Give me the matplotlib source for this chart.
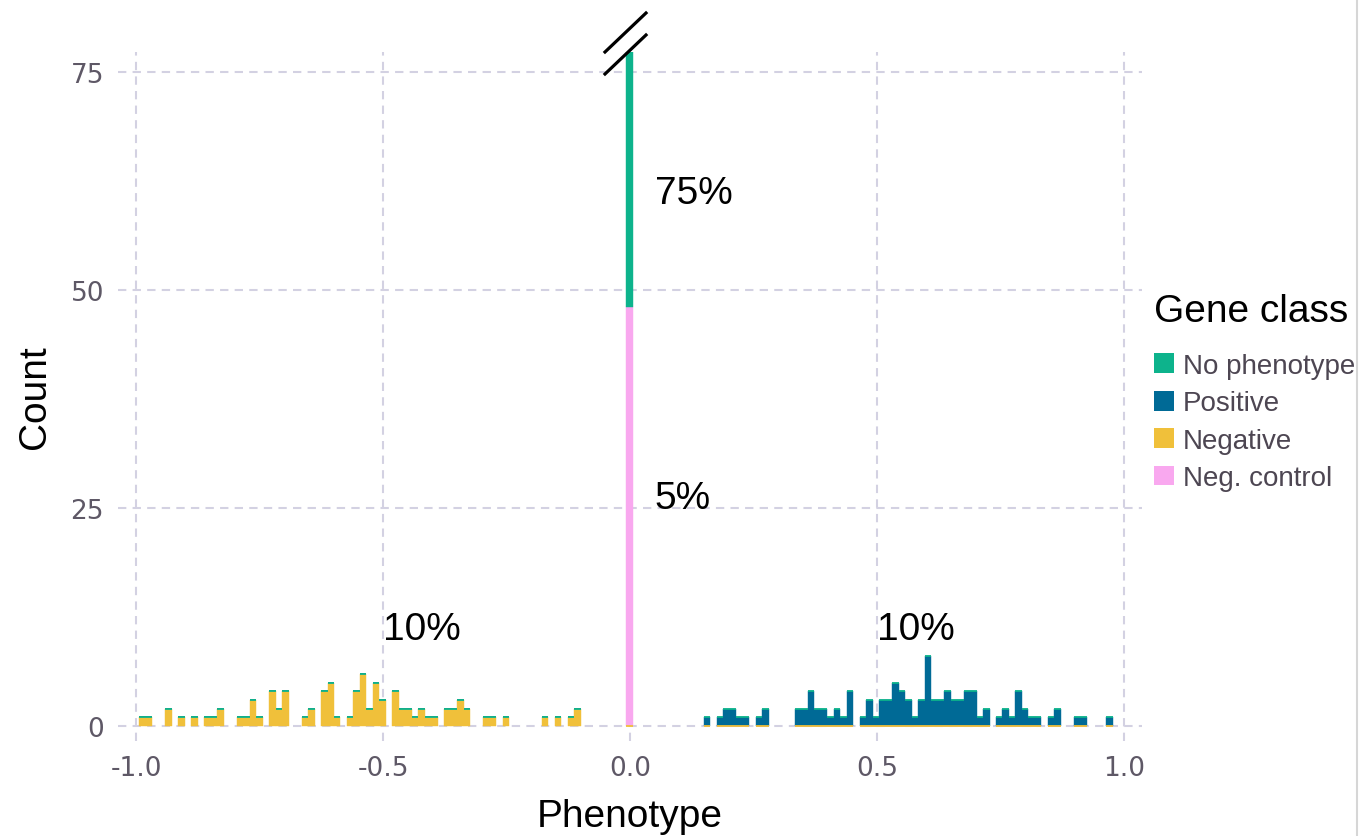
import numpy as np
import matplotlib
matplotlib.use("Agg")
import matplotlib.pyplot as plt
from matplotlib.patches import Patch
from matplotlib.lines import Line2D

# histogram bins (150 bins of equal width)
bin_start = -0.9939
bin_width = 0.013139
n_bins = 150

# bin index -> count
negative_idx = [0, 1, 4, 6, 8, 10, 11, 12, 15, 16, 17, 18, 20, 21, 22, 25, 26, 28, 29, 30,
                32, 33, 34, 35, 36, 37, 39, 40, 41, 42, 43, 44, 45, 47, 48, 49, 50, 53, 54,
                56, 62, 64, 66, 67]
negative_cnt = [1, 1, 2, 1, 1, 1, 1, 2, 1, 1, 3, 1, 4, 2, 4, 1, 2, 4, 5, 1,
                1, 4, 6, 2, 5, 3, 4, 2, 2, 1, 2, 1, 1, 2, 2, 3, 2, 1, 1,
                1, 1, 1, 1, 2]
positive_idx = [87, 89, 90, 91, 92, 93, 95, 96, 101, 102, 103, 104, 105, 106, 107, 108, 109,
                111, 112, 113, 114, 115, 116, 117, 118, 119, 120, 121, 122, 123, 124, 125,
                126, 127, 128, 129, 130, 132, 133, 134, 135, 136, 137, 138, 140, 141, 144,
                145, 149]
positive_cnt = [1, 1, 2, 2, 1, 1, 1, 2, 2, 2, 4, 2, 2, 1, 2, 1, 4,
                1, 3, 1, 3, 3, 5, 4, 3, 1, 3, 8, 3, 3, 4, 3,
                3, 4, 4, 1, 2, 1, 2, 1, 4, 2, 1, 1, 1, 2, 1,
                1, 1]
negctrl_idx = [75]
negctrl_cnt = [48]
nopheno_idx = [75]
nopheno_cnt = [750]

classes = ["No phenotype", "Positive", "Negative", "Neg. control"]
colors = {"No phenotype": "#0db38c", "Positive": "#006a96",
          "Negative": "#f0c03a", "Neg. control": "#f9a8ef"}
# stacking order, bottom to top
stack_order = ["Negative", "Neg. control", "Positive", "No phenotype"]
# which zero-height outline wins where several overlap
line_z = {"Negative": 4, "Neg. control": 1.2, "Positive": 1.5, "No phenotype": 5}

pct_labels = ["75%", "5%", "10%", "10%"]
pct_x = [0.05, 0.05, -0.5, 0.5]
pct_y = [60, 25, 10, 10]

counts = {}
for name, idx, cnt in [("Negative", negative_idx, negative_cnt),
                       ("Positive", positive_idx, positive_cnt),
                       ("Neg. control", negctrl_idx, negctrl_cnt),
                       ("No phenotype", nopheno_idx, nopheno_cnt)]:
    a = np.zeros(n_bins)
    a[idx] = cnt
    counts[name] = a

centers = bin_start + (np.arange(n_bins) + 0.5) * bin_width
total = sum(counts.values())
used = total > 0

fig = plt.figure(figsize=(13.61, 8.37), dpi=100)
ax = fig.add_axes([118 / 1361, (837 - 742) / 837, (1141.5 - 118) / 1361, (742 - 52.7) / 837])

grid_col = "#d3d1e2"
for v in [-1.0, -0.5, 0.0, 0.5, 1.0]:
    ax.axvline(v, color=grid_col, lw=1.5, ls=(0, (4, 3)), zorder=0)
for v in [0, 25, 50, 75]:
    ax.axhline(v, color=grid_col, lw=1.5, ls=(0, (4, 3)), zorder=0)

bottom = np.zeros(n_bins)
for name in stack_order:
    c = counts[name]
    m = c > 0
    ax.bar(centers[m], c[m], bottom=bottom[m], width=bin_width, color=colors[name],
           edgecolor=colors[name], linewidth=0.3, zorder=2)
    z = used & (c == 0)
    ax.hlines(bottom[z], centers[z] - bin_width / 2, centers[z] + bin_width / 2,
              color=colors[name], lw=1.3, zorder=line_z[name])
    bottom = bottom + c

for t, x, y in zip(pct_labels, pct_x, pct_y):
    ax.text(x, y, t, ha="left", va="baseline", fontsize=28, family="Liberation Sans",
            color="black", zorder=10)

ax.set_xlim(-1.037, 1.035)
ax.set_ylim(-1.7, 77.3)
ax.set_xticks([-1.0, -0.5, 0.0, 0.5, 1.0])
ax.set_xticklabels(["-1.0", "-0.5", "0.0", "0.5", "1.0"])
ax.set_yticks([0, 25, 50, 75])
for s in ax.spines.values():
    s.set_visible(False)
ax.tick_params(length=0, labelsize=19, labelcolor="#5e5866", pad=10)
for lab in ax.get_xticklabels() + ax.get_yticklabels():
    lab.set_family("DejaVu Sans")
ax.set_xlabel("Phenotype", fontsize=28, family="Liberation Sans", labelpad=12)
ax.set_ylabel("Count", fontsize=28, family="Liberation Sans", labelpad=13)

# axis break marks
for y0 in [53, 75]:
    fig.add_artist(Line2D([605 / 1361, 646 / 1361], [(837 - y0) / 837, (837 - y0 + 39) / 837],
                          color="black", lw=2.3, transform=fig.transFigure))

# legend
fig.text(1154 / 1361, 1 - 312 / 837, "Gene class", ha="left", va="center", fontsize=28,
         family="Liberation Sans")
handles = [Patch(facecolor=colors[c], edgecolor="none") for c in classes]
leg = fig.legend(handles, classes, loc="upper left",
                 bbox_to_anchor=(1154 / 1361, 1 - 354 / 837), frameon=False,
                 prop={"family": "Liberation Sans", "size": 20},
                 handlelength=0.72, handleheight=0.72, handletextpad=0.33,
                 labelspacing=0.41, borderaxespad=0, borderpad=0)
for t in leg.get_texts():
    t.set_color("#4d4652")

fig.add_artist(Line2D([1357 / 1361, 1357 / 1361], [0, 1], color="#d6d6d6", lw=1.5,
                      transform=fig.transFigure))

fig.savefig("out.png", dpi=100)
